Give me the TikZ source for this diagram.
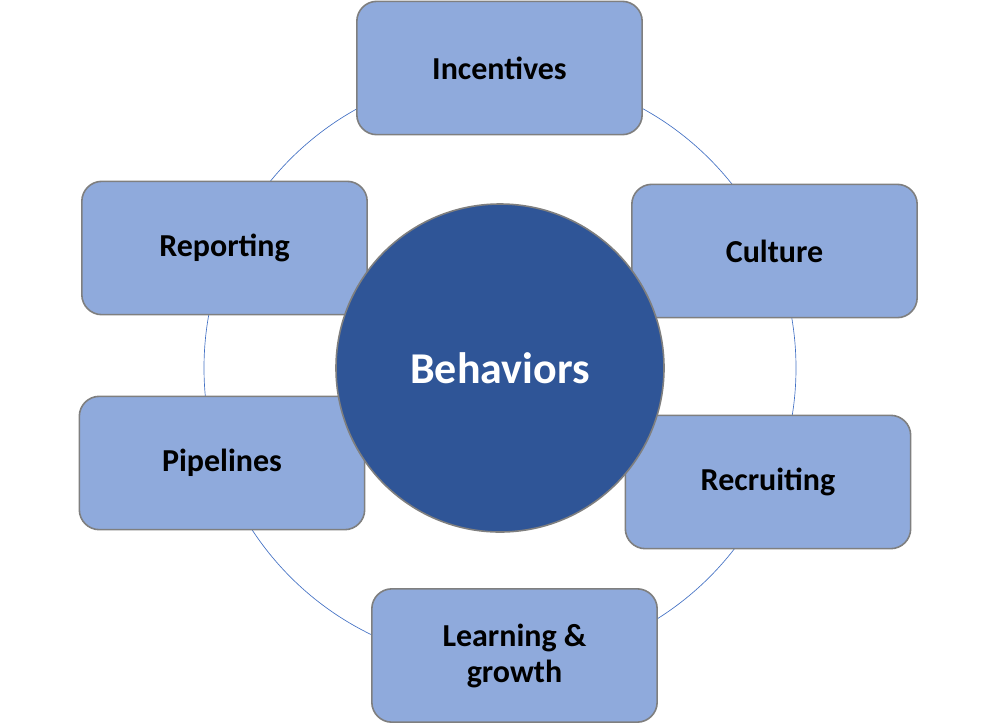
\documentclass[tikz,border=0pt]{standalone}
\usepackage{fontspec}
\setmainfont{Carlito}
\definecolor{boxfill}{HTML}{8FAADC}
\definecolor{cfill}{HTML}{2F5597}
\definecolor{ring}{HTML}{4472C4}
\definecolor{edge}{HTML}{7F7F7F}
\begin{document}
\begin{tikzpicture}[x=0.75pt,y=-0.75pt,
  boxst/.style={draw=edge,line width=1.2pt,fill=boxfill,rounded corners=15pt,minimum width=214pt,minimum height=100pt,align=center,font=\fontsize{24}{27}\selectfont\bfseries,inner sep=0pt}]
\useasboundingbox (0,0) rectangle (1000,726);
\node[draw=ring,line width=0.5pt,circle,minimum size=444pt,inner sep=0pt] (ring) at (500,368) {};
\node[boxst] (inc) at (499.5,68) {Incentives};
\node[boxst] (cul) at (774.5,251) {Culture};
\node[boxst] (rec) at (768,482) {Recruiting};
\node[boxst] (lea) at (514.5,655.5) {Learning \&\\growth};
\node[boxst] (pip) at (222,463) {Pipelines};
\node[boxst] (rep) at (224.5,248) {Reporting};
\node[circle,draw=edge,line width=1.2pt,fill=cfill,minimum size=246pt,inner sep=0pt,text=white,font=\fontsize{33}{36}\selectfont\bfseries] (beh) at (500,368) {Behaviors};
\end{tikzpicture}
\end{document}
